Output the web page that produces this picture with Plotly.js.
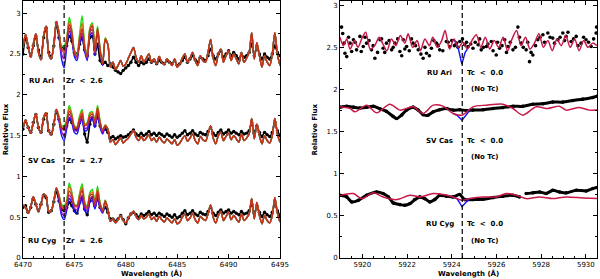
<!DOCTYPE html>
<html><head><meta charset="utf-8">
<script src="https://cdn.plot.ly/plotly-3.0.1.min.js"></script>
<style>html,body{margin:0;padding:0;background:#fff}#c{width:600px;height:279px}</style>
</head><body><div id="c"></div>
<script>
// ---------- LEFT PANEL (Zr, 6470-6495 A), sampled every 0.25 A ----------
const leftStart = 6470, leftStep = 0.25, leftCount = 101;
const ruAriModel = [2.58,2.74,2.60,2.46,2.62,2.75,2.52,2.43,2.72,2.84,2.50,2.44,2.62,2.90,2.76,2.55,2.52,2.66,2.86,2.76,2.52,2.47,2.68,2.81,2.58,2.46,2.78,2.84,2.52,2.81,2.55,2.38,2.68,2.62,2.34,2.40,2.31,2.36,2.42,2.35,2.38,2.45,2.52,2.58,2.46,2.40,2.48,2.40,2.45,2.50,2.40,2.44,2.38,2.47,2.40,2.37,2.44,2.40,2.36,2.44,2.34,2.38,2.45,2.50,2.40,2.45,2.52,2.42,2.36,2.48,2.42,2.40,2.52,2.68,2.45,2.36,2.50,2.56,2.40,2.48,2.54,2.42,2.50,2.44,2.38,2.52,2.40,2.45,2.52,2.76,2.44,2.64,2.48,2.34,2.48,2.40,2.36,2.50,2.76,2.50,2.36];
const svCasModel = [1.60,1.69,1.60,1.53,1.66,1.77,1.60,1.53,1.72,1.78,1.56,1.51,1.64,1.82,1.72,1.59,1.57,1.66,1.80,1.73,1.60,1.59,1.70,1.77,1.62,1.64,1.74,1.76,1.66,1.83,1.66,1.56,1.62,1.58,1.42,1.45,1.39,1.43,1.47,1.41,1.44,1.47,1.52,1.56,1.48,1.44,1.49,1.44,1.47,1.51,1.44,1.47,1.42,1.48,1.44,1.41,1.46,1.43,1.40,1.45,1.38,1.41,1.46,1.50,1.43,1.47,1.52,1.44,1.40,1.49,1.45,1.43,1.52,1.62,1.47,1.40,1.50,1.54,1.44,1.49,1.53,1.45,1.50,1.46,1.42,1.52,1.44,1.47,1.52,1.71,1.46,1.64,1.50,1.40,1.50,1.44,1.41,1.50,1.71,1.52,1.42];
const ruCygModel = [0.65,0.62,0.55,0.63,0.75,0.66,0.57,0.66,0.78,0.76,0.57,0.58,0.70,0.86,0.76,0.62,0.59,0.66,0.82,0.76,0.64,0.63,0.74,0.83,0.66,0.61,0.76,0.78,0.66,0.82,0.66,0.58,0.70,0.60,0.45,0.48,0.43,0.47,0.52,0.46,0.43,0.49,0.54,0.57,0.51,0.47,0.52,0.48,0.50,0.54,0.47,0.50,0.45,0.51,0.47,0.44,0.49,0.46,0.43,0.48,0.42,0.44,0.50,0.54,0.46,0.49,0.55,0.47,0.43,0.51,0.48,0.46,0.54,0.65,0.50,0.43,0.52,0.57,0.46,0.51,0.56,0.47,0.52,0.48,0.44,0.54,0.46,0.49,0.54,0.73,0.48,0.68,0.52,0.42,0.52,0.46,0.43,0.52,0.74,0.55,0.44];
const ruAriObs = [2.50,2.70,2.58,2.48,2.60,2.72,2.55,2.45,2.70,2.82,2.52,2.46,2.60,2.88,2.70,2.58,2.56,2.60,2.72,2.66,2.52,2.50,2.62,2.70,2.55,2.48,2.70,2.72,2.50,2.62,2.42,2.38,2.40,2.36,2.38,2.34,2.30,2.28,2.26,2.30,2.33,2.36,2.40,2.46,2.40,2.36,2.40,2.38,2.40,2.44,2.40,2.42,2.38,2.42,2.40,2.38,2.42,2.40,2.38,2.42,2.36,2.38,2.42,2.46,2.40,2.44,2.48,2.43,2.40,2.46,2.44,2.42,2.48,2.56,2.48,2.44,2.50,2.54,2.46,2.50,2.54,2.48,2.52,2.48,2.44,2.50,2.46,2.48,2.52,2.62,2.48,2.58,2.50,2.44,2.50,2.46,2.44,2.50,2.60,2.52,2.48];
const svCasObs = [1.58,1.68,1.60,1.54,1.66,1.76,1.60,1.54,1.70,1.77,1.56,1.52,1.64,1.80,1.70,1.60,1.58,1.62,1.70,1.66,1.58,1.57,1.66,1.72,1.52,1.42,1.64,1.72,1.62,1.74,1.62,1.56,1.58,1.54,1.47,1.49,1.46,1.48,1.50,1.48,1.49,1.51,1.54,1.57,1.52,1.50,1.53,1.50,1.52,1.55,1.51,1.53,1.50,1.53,1.51,1.49,1.52,1.50,1.48,1.51,1.48,1.50,1.53,1.56,1.51,1.53,1.56,1.52,1.50,1.54,1.52,1.51,1.55,1.60,1.53,1.50,1.54,1.57,1.52,1.54,1.57,1.53,1.55,1.53,1.51,1.55,1.52,1.53,1.56,1.66,1.53,1.62,1.54,1.49,1.54,1.51,1.49,1.54,1.66,1.56,1.50];
const ruCygObs = [0.62,0.64,0.56,0.62,0.73,0.66,0.58,0.66,0.77,0.74,0.56,0.58,0.69,0.82,0.70,0.60,0.58,0.62,0.68,0.64,0.58,0.55,0.68,0.74,0.60,0.53,0.70,0.74,0.64,0.72,0.62,0.58,0.62,0.56,0.48,0.48,0.45,0.48,0.52,0.47,0.42,0.49,0.54,0.56,0.53,0.50,0.54,0.52,0.54,0.57,0.53,0.55,0.52,0.55,0.53,0.51,0.54,0.52,0.50,0.53,0.49,0.51,0.55,0.58,0.53,0.55,0.58,0.54,0.52,0.56,0.54,0.53,0.57,0.62,0.55,0.52,0.56,0.59,0.55,0.57,0.59,0.55,0.57,0.55,0.53,0.57,0.54,0.55,0.58,0.66,0.55,0.62,0.56,0.51,0.56,0.53,0.51,0.56,0.66,0.58,0.52];

// Zr-sensitive stretch 6473.50-6478.00 (indices 14..32) for the other Zr abundances
const zrFirstIndex = 14;
const ruAriBlue   = [2.72,2.44,2.33,2.58,2.78,2.68,2.47,2.42,2.62,2.72,2.53,2.42,2.72,2.76,2.48,2.77,2.52,2.36,2.66];
const ruAriPurple = [2.74,2.50,2.44,2.62,2.82,2.72,2.50,2.45,2.65,2.76,2.56,2.44,2.76,2.80,2.50,2.79,2.54,2.37,2.67];
const ruAriOrange = [2.77,2.57,2.56,2.68,2.90,2.78,2.53,2.48,2.71,2.88,2.60,2.47,2.80,2.86,2.53,2.82,2.56,2.39,2.69];
const ruAriGreen  = [2.78,2.60,2.60,2.70,2.95,2.80,2.55,2.49,2.74,2.97,2.62,2.48,2.82,2.88,2.54,2.84,2.57,2.40,2.70];
const svCasBlue   = [1.68,1.50,1.44,1.58,1.72,1.66,1.54,1.52,1.63,1.70,1.56,1.57,1.68,1.70,1.60,1.77,1.60,1.52,1.60];
const svCasPurple = [1.70,1.55,1.50,1.62,1.76,1.69,1.57,1.56,1.66,1.73,1.59,1.60,1.71,1.73,1.63,1.80,1.63,1.54,1.61];
const svCasOrange = [1.73,1.61,1.60,1.68,1.84,1.75,1.61,1.60,1.72,1.80,1.63,1.65,1.76,1.78,1.67,1.85,1.67,1.57,1.63];
const svCasGreen  = [1.74,1.62,1.62,1.70,1.87,1.77,1.62,1.61,1.74,1.82,1.64,1.66,1.78,1.79,1.68,1.87,1.68,1.57,1.63];
const ruCygBlue   = [0.71,0.52,0.47,0.58,0.73,0.68,0.57,0.55,0.65,0.72,0.58,0.55,0.68,0.70,0.60,0.75,0.61,0.55,0.68];
const ruCygPurple = [0.73,0.56,0.52,0.62,0.77,0.72,0.61,0.59,0.69,0.77,0.62,0.58,0.72,0.74,0.63,0.78,0.63,0.56,0.69];
const ruCygOrange = [0.77,0.64,0.62,0.69,0.88,0.79,0.65,0.64,0.77,0.87,0.68,0.62,0.78,0.81,0.67,0.85,0.67,0.59,0.70];
const ruCygGreen  = [0.78,0.66,0.64,0.71,0.92,0.81,0.66,0.65,0.79,0.91,0.69,0.63,0.80,0.84,0.68,0.88,0.68,0.59,0.71];

// ---------- RIGHT PANEL (Tc, 5919-5930.5 A) ----------
const rAriModelWl = [5919.0,5919.15,5919.3,5919.45,5919.65,5919.8,5920.0,5920.15,5920.35,5920.55,5920.75,5920.9,5921.1,5921.3,5921.5,5921.7,5921.9,5922.05,5922.25,5922.45,5922.6,5922.8,5923.0,5923.15,5923.35,5923.55,5923.7,5923.9,5924.1,5924.3,5924.5,5924.7,5924.9,5925.1,5925.3,5925.5,5925.7,5925.9,5926.1,5926.3,5926.5,5926.7,5926.9,5927.1,5927.3,5927.5,5927.7,5927.9,5928.1,5928.3,5928.5,5928.7,5928.9,5929.1,5929.3,5929.5,5929.7,5929.9,5930.1,5930.3,5930.5];
const rAriModel   = [2.62,2.52,2.60,2.48,2.58,2.50,2.62,2.68,2.48,2.52,2.62,2.55,2.46,2.60,2.52,2.64,2.55,2.66,2.50,2.58,2.46,2.60,2.52,2.62,2.50,2.58,2.70,2.48,2.60,2.50,2.56,2.48,2.58,2.65,2.50,2.62,2.48,2.58,2.50,2.62,2.46,2.60,2.70,2.52,2.62,2.48,2.55,2.66,2.50,2.58,2.46,2.60,2.52,2.64,2.50,2.60,2.46,2.58,2.50,2.55,2.52];
const rAriObsWl = [5919.07,5919.12,5919.22,5919.30,5919.45,5919.60,5919.74,5919.89,5920.04,5920.19,5920.41,5920.56,5920.79,5920.93,5921.08,5921.31,5921.46,5921.68,5921.83,5921.98,5922.27,5922.50,5922.72,5922.87,5923.09,5923.32,5923.46,5923.76,5923.91,5924.21,5924.36,5924.58,5924.73,5924.95,5925.18,5925.32,5925.55,5925.77,5925.99,5926.14,5926.37,5926.51,5926.74,5926.96,5927.11,5927.33,5927.48,5927.63,5927.85,5928.08,5928.30,5928.52,5928.75,5928.97,5929.12,5929.34,5929.57,5929.79,5930.01,5930.24,5930.46,5930.48,
  5919.18,5919.38,5919.52,5919.68,5919.95,5920.12,5920.30,5920.48,5920.68,5920.86,5921.00,5921.20,5921.38,5921.58,5921.76,5921.90,5922.10,5922.20,5922.38,5922.62,5922.80,5923.00,5923.20,5923.40,5923.60,5923.84,5924.00,5924.12,5924.28,5924.48,5924.66,5924.85,5925.05,5925.25,5925.42,5925.62,5925.85,5926.05,5926.25,5926.45,5926.62,5926.85,5927.03,5927.20,5927.40,5927.55,5927.75,5927.95,5928.15,5928.40,5928.60,5928.85,5929.05,5929.20,5929.45,5929.65,5929.90,5930.12,5930.35];
const rAriObs = [2.74,2.665,2.43,2.39,2.55,2.59,2.47,2.63,2.51,2.55,2.47,2.37,2.59,2.49,2.55,2.47,2.55,2.45,2.59,2.51,2.55,2.47,2.37,2.43,2.49,2.55,2.47,2.57,2.51,2.55,2.57,2.53,2.51,2.49,2.53,2.47,2.51,2.57,2.41,2.49,2.59,2.51,2.47,2.74,2.55,2.47,2.33,2.41,2.59,2.65,2.67,2.61,2.59,2.67,2.63,2.57,2.63,2.55,2.59,2.51,2.67,2.74,
  2.55,2.62,2.45,2.56,2.45,2.62,2.58,2.52,2.44,2.60,2.44,2.58,2.50,2.60,2.40,2.48,2.46,2.60,2.52,2.42,2.50,2.40,2.58,2.52,2.46,2.56,2.58,2.52,2.50,2.60,2.56,2.54,2.56,2.60,2.50,2.54,2.46,2.56,2.52,2.44,2.56,2.50,2.62,2.50,2.56,2.44,2.52,2.62,2.56,2.62,2.55,2.62,2.58,2.68,2.60,2.52,2.62,2.56,2.60];
const rAriBlueWl = [5924.1,5924.3,5924.45,5924.6,5924.7];
const rAriBlue   = [2.60,2.48,2.30,2.44,2.48];

const rSvModelWl = [5919.0,5919.45,5919.67,5920.19,5920.64,5921.23,5921.68,5922.27,5922.72,5923.17,5923.61,5924.06,5924.46,5924.95,5925.55,5926.29,5926.74,5927.18,5927.78,5928.30,5928.82,5929.12,5929.71,5930.16,5930.5];
const rSvModel   = [1.794,1.774,1.735,1.814,1.723,1.826,1.755,1.794,1.715,1.814,1.802,1.715,1.695,1.794,1.814,1.826,1.774,1.695,1.794,1.774,1.802,1.755,1.786,1.755,1.755];
const rSvObsWl = [5919.0,5919.30,5919.60,5919.89,5920.19,5920.49,5920.79,5921.08,5921.38,5921.53,5921.75,5921.98,5922.27,5922.50,5922.72,5922.94,5923.17,5923.46,5923.76,5924.06,5924.36,5924.65,5924.95,5925.40,5925.85,5926.29,5926.74,5927.18,5927.63,5928.08,5928.52,5928.97,5929.42,5929.86,5930.31,5930.5];
const rSvObs   = [1.79,1.80,1.79,1.78,1.79,1.80,1.77,1.74,1.68,1.655,1.695,1.755,1.79,1.755,1.70,1.695,1.735,1.76,1.775,1.755,1.76,1.75,1.755,1.76,1.775,1.785,1.80,1.80,1.825,1.83,1.85,1.85,1.87,1.885,1.905,1.92];
const rSvBlueWl = [5924.06,5924.25,5924.46,5924.65,5924.8];
const rSvBlue   = [1.715,1.69,1.636,1.70,1.75];

const rCygModelWl = [5919.0,5919.60,5919.97,5920.49,5920.93,5921.53,5922.13,5922.57,5923.17,5923.61,5924.06,5924.46,5924.80,5925.40,5925.99,5926.44,5926.89,5927.33,5927.93,5928.52,5929.12,5929.86,5930.5];
const rCygModel   = [0.745,0.765,0.705,0.773,0.725,0.693,0.745,0.725,0.765,0.753,0.725,0.685,0.705,0.725,0.725,0.765,0.745,0.705,0.725,0.705,0.725,0.713,0.705];
const rCygObsWl = [5919.0,5919.30,5919.52,5919.82,5920.19,5920.64,5920.93,5921.16,5921.38,5921.68,5921.90,5922.13,5922.35,5922.57,5922.79,5923.02,5923.24,5923.46,5923.76,5924.06,5924.36,5924.58,5924.95,5925.40,5925.85,5926.29,5926.74,5927.03,null,5927.33,5927.63,5927.93,5928.23,5928.52,5928.82,5929.12,5929.57,5930.01,5930.31,5930.5];
const rCygObs   = [0.745,0.725,0.666,0.685,0.745,0.784,0.765,0.725,0.654,0.634,0.626,0.646,0.693,0.725,0.705,0.666,0.693,0.745,0.733,0.725,0.753,0.693,0.693,0.697,0.717,0.733,0.745,0.725,null,0.765,0.773,0.784,0.765,0.804,0.784,0.773,0.804,0.796,0.824,0.836];
const rCygBlueWl = [5924.06,5924.25,5924.46,5924.65,5924.8];
const rCygBlue   = [0.725,0.70,0.61,0.67,0.705];

const zrLine = 6474.0, tcLine = 5924.47;

// ---------- build ----------
const gridL = [];
for (let i = 0; i < leftCount; i++) gridL.push(leftStart + leftStep * i);
function withZr(base, zr) {
  const out = base.slice();
  for (let k = 0; k < zr.length; k++) out[zrFirstIndex + k] = zr[k];
  return out;
}
const C = {blue:'#1010ff', purple:'#9a10c8', green:'#10e010', orange:'#d0701a', red:'#c4301c', tc:'#c81848'};
const traces = [];
function obsL(y) { traces.push({x:gridL, y:y, mode:'lines+markers', line:{color:'#000', width:1.6, shape:'spline', smoothing:0.6}, marker:{color:'#000', size:3.4}, xaxis:'x', yaxis:'y', hoverinfo:'skip'}); }
function lineL(y, c) { traces.push({x:gridL, y:y, mode:'lines', line:{color:c, width:1.4, shape:'spline', smoothing:0.8}, xaxis:'x', yaxis:'y', hoverinfo:'skip'}); }
const stars = [
  [ruAriObs, ruAriModel, ruAriBlue, ruAriPurple, ruAriGreen, ruAriOrange],
  [svCasObs, svCasModel, svCasBlue, svCasPurple, svCasGreen, svCasOrange],
  [ruCygObs, ruCygModel, ruCygBlue, ruCygPurple, ruCygGreen, ruCygOrange]
];
stars.forEach(s => {
  obsL(s[0]);
  lineL(withZr(s[1], s[2]), C.blue);
  lineL(withZr(s[1], s[3]), C.purple);
  lineL(withZr(s[1], s[4]), C.green);
  lineL(withZr(s[1], s[5]), C.orange);
  lineL(s[1], C.red);
});
// right
traces.push({x:rAriObsWl, y:rAriObs, mode:'markers', marker:{color:'#000', size:3.6}, xaxis:'x2', yaxis:'y2', hoverinfo:'skip'});
[[rSvObsWl, rSvObs],[rCygObsWl, rCygObs]].forEach(o => traces.push({x:o[0], y:o[1], mode:'lines+markers', line:{color:'#000', width:3, shape:'spline', smoothing:0.6}, marker:{color:'#000', size:3.6}, xaxis:'x2', yaxis:'y2', hoverinfo:'skip', connectgaps:false}));
[[rAriBlueWl, rAriBlue],[rSvBlueWl, rSvBlue],[rCygBlueWl, rCygBlue]].forEach(b => traces.push({x:b[0], y:b[1], mode:'lines', line:{color:C.blue, width:1.4}, xaxis:'x2', yaxis:'y2', hoverinfo:'skip'}));
[[rAriModelWl, rAriModel],[rSvModelWl, rSvModel],[rCygModelWl, rCygModel]].forEach(m => traces.push({x:m[0], y:m[1], mode:'lines', line:{color:C.tc, width:1.5, shape:'spline', smoothing:0.8}, xaxis:'x2', yaxis:'y2', hoverinfo:'skip'}));

const tf = {family:'DejaVu Sans', size:7, color:'#000'};
function ax(extra) {
  return Object.assign({showline:true, linecolor:'#000', linewidth:1, mirror:'allticks', ticks:'inside', ticklen:4, tickcolor:'#000', showgrid:false, zeroline:false, tickfont:tf, fixedrange:true}, extra);
}
const labF = {family:'DejaVu Sans', size:7, color:'#000', weight:'bold'};
function ann(x, y, t, xr, yr) { return {x:x, y:y, xref:xr, yref:yr, text:t, showarrow:false, font:labF, xanchor:'center', yanchor:'middle'}; }
const annotations = [
  ann(6471.8, 2.17, 'RU Ari', 'x', 'y'), ann(6475.95, 2.17, 'Zr  <  2.6', 'x', 'y'),
  ann(6471.8, 1.19, 'SV Cas', 'x', 'y'), ann(6475.95, 1.19, 'Zr  =  2.7', 'x', 'y'),
  ann(6471.8, 0.21, 'RU Cyg', 'x', 'y'), ann(6475.95, 0.21, 'Zr  =  2.6', 'x', 'y'),
  ann(5923.46, 2.20, 'RU Ari', 'x2', 'y2'), ann(5925.5, 2.20, 'Tc  <  0.0', 'x2', 'y2'), ann(5925.47, 2.0, '(No Tc)', 'x2', 'y2'),
  ann(5923.46, 1.39, 'SV Cas', 'x2', 'y2'), ann(5925.5, 1.39, 'Tc  <  0.0', 'x2', 'y2'), ann(5925.47, 1.20, '(No Tc)', 'x2', 'y2'),
  ann(5923.49, 0.40, 'RU Cyg', 'x2', 'y2'), ann(5925.5, 0.40, 'Tc  <  0.0', 'x2', 'y2'), ann(5925.47, 0.20, '(No Tc)', 'x2', 'y2'),
  {x:0.224, y:-0.062, xref:'paper', yref:'paper', text:'Wavelength (Å)', showarrow:false, font:labF, xanchor:'center', yanchor:'middle'},
  {x:0.776, y:-0.062, xref:'paper', yref:'paper', text:'Wavelength (Å)', showarrow:false, font:labF, xanchor:'center', yanchor:'middle'},
  {x:-0.03, y:0.5, xref:'paper', yref:'paper', text:'Relative Flux', textangle:-90, showarrow:false, font:labF, xanchor:'center', yanchor:'middle'},
  {x:0.5087, y:0.5, xref:'paper', yref:'paper', text:'Relative Flux', textangle:-90, showarrow:false, font:labF, xanchor:'center', yanchor:'middle'}
];
const shapes = [
  {type:'line', xref:'x', yref:'y domain', x0:zrLine, x1:zrLine, y0:0, y1:1, line:{color:'#000', width:1.2, dash:'5px,3px'}},
  {type:'line', xref:'x2', yref:'y2 domain', x0:tcLine, x1:tcLine, y0:0, y1:1, line:{color:'#000', width:1.2, dash:'5px,3px'}}
];
const layout = {
  width:600, height:279, margin:{l:23, r:3, t:1, b:21}, paper_bgcolor:'#fff', plot_bgcolor:'#fff',
  showlegend:false, hovermode:false,
  xaxis: ax({domain:[0,0.4477], range:[6470,6495], tick0:6470, dtick:5, anchor:'y', minor:{dtick:1, ticklen:2, ticks:'inside', tickcolor:'#000'}}),
  yaxis: ax({domain:[0,1], range:[0,3.15], tick0:0, dtick:0.5, anchor:'x', minor:{dtick:0.25, ticklen:2, ticks:'inside', tickcolor:'#000'}}),
  xaxis2: ax({domain:[0.5523,1], range:[5919,5930.5], tick0:5920, dtick:2, anchor:'y2', minor:{dtick:0.5, ticklen:2, ticks:'inside', tickcolor:'#000'}}),
  yaxis2: ax({domain:[0,1], range:[0,3.05], tick0:0, dtick:0.5, anchor:'x2', minor:{dtick:0.25, ticklen:2, ticks:'inside', tickcolor:'#000'}}),
  annotations:annotations, shapes:shapes
};
Plotly.newPlot('c', traces, layout, {displayModeBar:false, staticPlot:true});
</script></body></html>
